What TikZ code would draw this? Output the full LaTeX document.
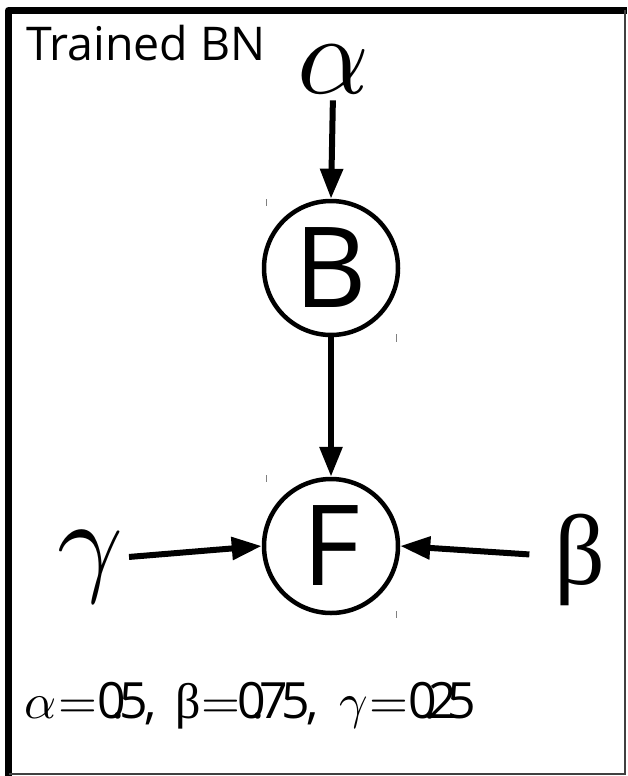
\documentclass[tikz,border=0pt]{standalone}
\usepackage{fontspec}
\usepackage{unicode-math}
\setmainfont{Open Sans}
\setmathfont{Latin Modern Math}
\newfontfamily\gr{Liberation Serif}
\usetikzlibrary{arrows.meta}
\begin{document}
\begin{tikzpicture}[x=1pt,y=-1pt,
  var/.style={circle, draw, line width=4.5pt, minimum size=134pt, inner sep=0pt, font=\fontsize{112}{112}\selectfont},
  edge/.style={line width=6pt, -{Triangle[length=30pt,width=22pt]}},
  greek/.style={inner sep=0pt, anchor=base, font=\fontsize{112}{112}\selectfont},
  tickmark/.style={draw=gray, line width=1pt}]
\useasboundingbox (0,0) rectangle (627,776);
\fill[white] (0,0) rectangle (627,776);
% frame
\draw[line width=7pt, line join=round] (8.5,776) -- (8.5,10.5) -- (627,10.5);
\draw[line width=2pt, black!75] (625,10.5) -- (625,774) -- (8.5,774);
% title
\node[anchor=base west, inner sep=0pt, font=\fontsize{46.5}{46.5}\selectfont] (title) at (26,60) {Trained BN};
% variables
\node[var] (B) at (331,268) {B};
\node[var] (F) at (331,546) {F};
\node[greek] (alpha) at (333,93) {$\alpha$};
\node[greek, font=\fontsize{115}{115}\selectfont] (gamma) at (90,580) {$\gamma$};
\node[inner sep=0pt, anchor=base, font=\gr\fontsize{100}{100}\selectfont] (beta) at (580,584) {β};
% ticks
\draw[tickmark] (266,199) -- (266,206);
\draw[tickmark] (396,334) -- (396,342);
\draw[tickmark] (266,475) -- (266,482);
\draw[tickmark] (396,611) -- (396,618);
% edges
\draw[edge, shorten <=6pt] (alpha.south) -- (B.north);
\draw[edge] (B) -- (F);
\draw[edge] ([xshift=6pt,yshift=10pt]gamma.east) -- (F.west);
\draw[edge] ([xshift=-25pt,yshift=5pt]beta.west) -- (F.east);
% parameters
\node[anchor=base west, inner sep=0pt, font=\fontsize{50}{50}\selectfont] (params) at (24,718)
  {$\alpha$\kern2pt$=$\kern0pt0\kern-14pt.\kern-6pt5\kern-3pt,\kern19pt
   {\gr β}$=$\kern-3pt0\kern-14pt.\kern-6pt7\kern-6.5pt5\kern-3pt,\kern20pt
   $\gamma$\kern2pt$=$\kern0pt0\kern-14pt.\kern-8pt2\kern-10pt5};
\end{tikzpicture}
\end{document}
